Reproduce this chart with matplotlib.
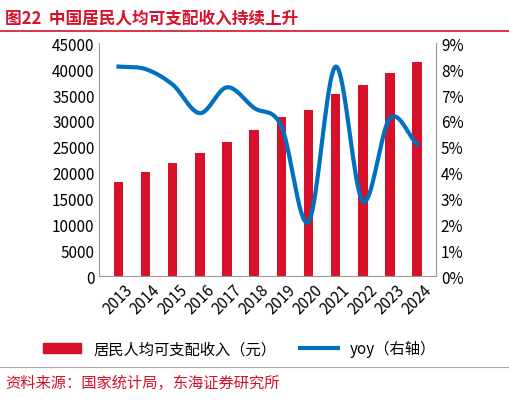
import numpy as np
import matplotlib.pyplot as plt
from matplotlib.lines import Line2D
from matplotlib.patches import Patch

plt.rcParams['font.family'] = ['Noto Sans CJK SC', 'DejaVu Sans']

years = ['2013', '2014', '2015', '2016', '2017', '2018', '2019', '2020', '2021', '2022', '2023', '2024']
income = [18311, 20167, 21966, 23821, 25974, 28228, 30733, 32189, 35128, 36883, 39218, 41314]
yoy = [8.1, 8.0, 7.4, 6.3, 7.3, 6.5, 5.8, 2.1, 8.1, 2.9, 6.1, 5.1]

red = '#d7112a'
blue = '#0070c0'


def smooth(x, y, n=20):
    # catmull-rom curve through the points
    x = np.asarray(x, float)
    y = np.asarray(y, float)
    px = np.concatenate([[2 * x[0] - x[1]], x, [2 * x[-1] - x[-2]]])
    py = np.concatenate([[2 * y[0] - y[1]], y, [2 * y[-1] - y[-2]]])
    xs, ys = [], []
    for i in range(1, len(px) - 2):
        t = np.linspace(0, 1, n, endpoint=False)
        for p, out in ((px, xs), (py, ys)):
            p0, p1, p2, p3 = p[i - 1], p[i], p[i + 1], p[i + 2]
            out.extend(0.5 * (2 * p1 + (-p0 + p2) * t + (2 * p0 - 5 * p1 + 4 * p2 - p3) * t ** 2
                              + (-p0 + 3 * p1 - 3 * p2 + p3) * t ** 3))
    xs.append(x[-1])
    ys.append(y[-1])
    return np.array(xs), np.array(ys)


fig = plt.figure(figsize=(5.10, 4.02), dpi=100)
ax = fig.add_axes([0.195, 0.31, 0.66, 0.58])
x = np.arange(len(years))
ax.bar(x, income, width=0.35, color=red)
ax.set_ylim(0, 45000)
ax.set_yticks(range(0, 45001, 5000))
ax.set_xlim(-0.7, len(years) - 0.3)
ax.set_xticks(x)
ax.set_xticklabels(years, rotation=45, fontsize=11)
ax.tick_params(axis='y', labelsize=11, length=0)
ax.tick_params(axis='x', length=0)
ax.spines['top'].set_visible(False)
for s in ['bottom', 'left', 'right']:
    ax.spines[s].set_color('#999999')

ax2 = ax.twinx()
sx, sy = smooth(x, yoy)
ax2.plot(sx, sy, color=blue, lw=3)
ax2.set_ylim(0, 9)
ax2.set_yticks(range(0, 10))
ax2.set_yticklabels([f'{i}%' for i in range(10)], fontsize=11)
ax2.tick_params(axis='y', length=0)
for s in ['top', 'left', 'bottom']:
    ax2.spines[s].set_visible(False)
ax2.spines['right'].set_color('#999999')

handles = [Patch(color=red), Line2D([], [], color=blue, lw=3)]
fig.legend(handles, ['居民人均可支配收入（元）', 'yoy（右轴）'], loc='center', bbox_to_anchor=(0.47, 0.13),
           ncol=2, frameon=False, fontsize=11, handlelength=2.5, columnspacing=1.5)

fig.text(0.01, 0.955, '图22  中国居民人均可支配收入持续上升', color=red, fontsize=12, fontweight='bold', va='center')
fig.add_artist(Line2D([0, 1], [0.92, 0.92], color=red, lw=1.2))
fig.add_artist(Line2D([0, 1], [0.085, 0.085], color='#aaaaaa', lw=0.8))
fig.text(0.01, 0.045, '资料来源：国家统计局，东海证券研究所', color=red, fontsize=11, va='center')

fig.savefig('out.png', dpi=100)
